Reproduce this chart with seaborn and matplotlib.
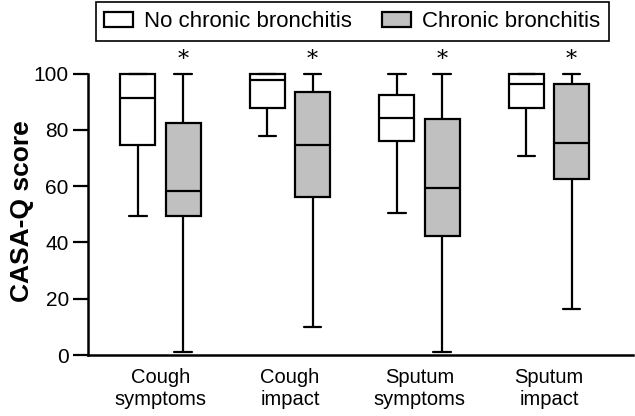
import matplotlib
matplotlib.use("Agg")
import matplotlib.pyplot as plt
import seaborn as sns
import pandas as pd

# Five-number summaries: min, Q1, median, Q3, max
categories = ["Cough\nsymptoms", "Cough\nimpact", "Sputum\nsymptoms", "Sputum\nimpact"]
groups = ["No chronic bronchitis", "Chronic bronchitis"]

no_cb = [
    [49.5, 74.6, 91.5, 100.0, 100.0],
    [77.9, 87.6, 97.9, 100.0, 100.0],
    [50.6, 76.1, 84.4, 92.4, 100.0],
    [70.7, 87.6, 96.3, 100.0, 100.0],
]
cb = [
    [1.2, 49.5, 58.4, 82.5, 100.0],
    [10.1, 56.0, 74.6, 93.5, 100.0],
    [1.2, 42.3, 59.2, 83.7, 100.0],
    [16.2, 62.4, 75.2, 96.3, 100.0],
]
significant = [True, True, True, True]  # asterisk over the chronic bronchitis box

rows = []
for cat, a, b in zip(categories, no_cb, cb):
    for v in a:
        rows.append((cat, groups[0], v))
    for v in b:
        rows.append((cat, groups[1], v))
df = pd.DataFrame(rows, columns=["category", "group", "score"])

sns.set_style("ticks")
plt.rcParams["font.family"] = ["Liberation Sans", "DejaVu Sans"]
plt.rcParams.update({"text.color": "black", "axes.labelcolor": "black",
                     "xtick.color": "black", "ytick.color": "black",
                     "axes.edgecolor": "black"})

fig = plt.figure(figsize=(6.35, 4.16), dpi=100)
ax = fig.add_axes([0.139, 0.1466, 0.858, 0.69])

width = 0.70
sns.boxplot(data=df, x="category", y="score", hue="group", order=categories,
            hue_order=groups, palette={groups[0]: "white", groups[1]: "#c0c0c0"},
            whis=(0, 100), width=width, gap=0.23, linecolor="black",
            linewidth=1.6, fliersize=0, ax=ax)

# asterisks above the chronic bronchitis whiskers
for i, (vals, sig) in enumerate(zip(cb, significant)):
    if sig:
        ax.text(i + width / 4, max(vals) + 0.8, "*", ha="center", va="bottom",
                fontsize=16, family="DejaVu Serif", clip_on=False)

ax.set_xlim(-0.558, 3.65)
ax.set_ylim(0, 102)
ax.set_yticks([0, 20, 40, 60, 80, 100])
ax.spines["left"].set_bounds(0, 100)
for s in ["top", "right"]:
    ax.spines[s].set_visible(False)
for s in ["left", "bottom"]:
    ax.spines[s].set_linewidth(1.8)
ax.tick_params(axis="y", length=11, width=1.6, labelsize=15, pad=3)
ax.tick_params(axis="x", length=0, labelsize=14.5, pad=9)
ax.set_xlabel("")
ax.set_ylabel("CASA-Q score", fontsize=19, fontweight="bold", labelpad=0)

handles, labels = ax.get_legend_handles_labels()
ax.get_legend().remove()
leg = fig.legend(handles, labels, loc="upper center", bbox_to_anchor=(0.555, 0.995),
                 ncol=2, fontsize=16, frameon=True, fancybox=False,
                 handlelength=1.3, handleheight=0.65, handletextpad=0.5,
                 columnspacing=1.35, borderpad=0.4, borderaxespad=0, framealpha=1)
leg.get_frame().set_edgecolor("black")
leg.get_frame().set_linewidth(1.2)

fig.savefig("out.png", dpi=100)
plt.close(fig)
